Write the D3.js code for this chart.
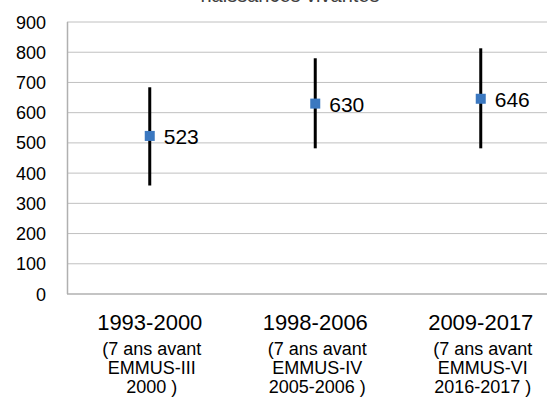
<!DOCTYPE html>
<html>
<head>
<meta charset="utf-8">
<script src="https://cdn.jsdelivr.net/npm/d3@7"></script>
<style>
html,body{margin:0;padding:0;background:#fff;}
svg{display:block;font-family:Arial,"Liberation Sans",sans-serif;}
</style>
</head>
<body>
<svg id="chart" width="547" height="397"></svg>
<script>
const categories = ["1993-2000", "1998-2006", "2009-2017"];
const subLabels = [
  ["(7 ans avant", "EMMUS-III", "2000 )"],
  ["(7 ans avant", "EMMUS-IV", "2005-2006 )"],
  ["(7 ans avant", "EMMUS-VI", "2016-2017 )"]
];
const values = [523, 630, 646];
const lower = [359, 482, 482];
const upper = [684, 780, 813];
const yTicks = [0, 100, 200, 300, 400, 500, 600, 700, 800, 900];
const title = "naissances vivantes";

const svg = d3.select("#chart");
const plotLeft = 67, plotTop = 22, plotBottom = 294;
const x = d3.scaleBand().domain(categories).range([plotLeft, plotLeft + 3 * 165.5]);
const y = d3.scaleLinear().domain([0, 900]).range([plotBottom, plotTop]);

// title (cut off at top, as in the reference)
svg.append("text").attr("x", 290).attr("y", 2).attr("text-anchor", "middle")
  .attr("font-size", 20).attr("fill", "#404040").text(title);

// gridlines
svg.append("g").selectAll("line").data(yTicks.filter(d => d > 0)).join("line")
  .attr("x1", plotLeft).attr("x2", 547).attr("y1", d => y(d)).attr("y2", d => y(d))
  .attr("stroke", "#c0c0c0").attr("stroke-width", 1);

// axes lines
svg.append("line").attr("x1", plotLeft + 0.5).attr("x2", plotLeft + 0.5).attr("y1", y(900)).attr("y2", y(0))
  .attr("stroke", "#b0b0b0").attr("stroke-width", 1.5);
svg.append("line").attr("x1", plotLeft).attr("x2", 547).attr("y1", y(0)).attr("y2", y(0))
  .attr("stroke", "#b0b0b0").attr("stroke-width", 1.5);

// y tick labels
svg.append("g").selectAll("text").data(yTicks).join("text")
  .attr("x", 46).attr("y", d => y(d) + 6.5).attr("text-anchor", "end")
  .attr("font-size", 18).attr("fill", "#000").text(d => d);

const cx = d => x(d) + x.bandwidth() / 2;

// error bars
svg.append("g").selectAll("line").data(categories).join("line")
  .attr("x1", d => cx(d)).attr("x2", d => cx(d))
  .attr("y1", (d, i) => y(upper[i])).attr("y2", (d, i) => y(lower[i]))
  .attr("stroke", "#000").attr("stroke-width", 3);

// markers
svg.append("g").selectAll("rect").data(categories).join("rect")
  .attr("x", d => cx(d) - 5).attr("y", (d, i) => y(values[i]) - 5)
  .attr("width", 10).attr("height", 10).attr("fill", "#3b78c0");

// value labels
svg.append("g").selectAll("text").data(categories).join("text")
  .attr("x", d => cx(d) + 14).attr("y", (d, i) => y(values[i]) + 8)
  .attr("font-size", 21).attr("fill", "#000").text((d, i) => values[i]);

// category labels
const g = svg.append("g").selectAll("g").data(categories).join("g");
g.append("text").attr("x", d => cx(d)).attr("y", 330).attr("text-anchor", "middle")
  .attr("font-size", 22).attr("fill", "#000").text(d => d);
g.each(function(d, i) {
  const sel = d3.select(this);
  subLabels[i].forEach((t, j) => {
    sel.append("text").attr("x", cx(d) + 2).attr("y", 355 + j * 19).attr("text-anchor", "middle")
      .attr("font-size", 18).attr("fill", "#000").text(t);
  });
});
</script>
</body>
</html>
